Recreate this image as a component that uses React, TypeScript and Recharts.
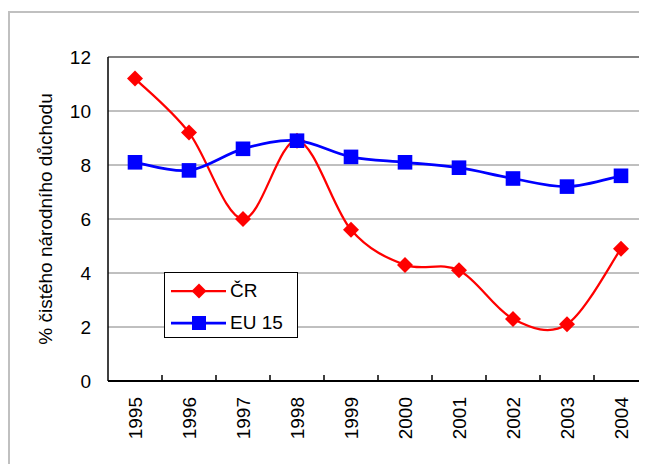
import {
  LineChart,
  Line,
  XAxis,
  YAxis,
  CartesianGrid,
  Legend,
  ReferenceLine,
} from "recharts";

const years = ["1995", "1996", "1997", "1998", "1999", "2000", "2001", "2002", "2003", "2004"];
const crValues = [11.2, 9.2, 6.0, 8.9, 5.6, 4.3, 4.1, 2.3, 2.1, 4.9];
const euValues = [8.1, 7.8, 8.6, 8.9, 8.3, 8.1, 7.9, 7.5, 7.2, 7.6];
const yTicks = [0, 2, 4, 6, 8, 10, 12];

const FONT = "Arial, 'Liberation Sans', sans-serif";
const RED = "#ff0000";
const BLUE = "#0000ff";
const X_TICK_MARGIN = 16;

const data = years.map((year, i) => ({ year, cr: crValues[i], eu: euValues[i] }));

// Excel-like smoothing (Catmull-Rom through the points)
function excelSmooth(context: any) {
  let pts: number[][] = [];
  return {
    areaStart() {},
    areaEnd() {},
    lineStart() {
      pts = [];
    },
    point(x: number, y: number) {
      pts.push([+x, +y]);
    },
    lineEnd() {
      if (!pts.length) return;
      context.moveTo(pts[0][0], pts[0][1]);
      for (let i = 0; i < pts.length - 1; i++) {
        const p0 = pts[Math.max(i - 1, 0)];
        const p1 = pts[i];
        const p2 = pts[i + 1];
        const p3 = pts[Math.min(i + 2, pts.length - 1)];
        context.bezierCurveTo(
          p1[0] + (p2[0] - p0[0]) / 6,
          p1[1] + (p2[1] - p0[1]) / 6,
          p2[0] - (p3[0] - p1[0]) / 6,
          p2[1] - (p3[1] - p1[1]) / 6,
          p2[0],
          p2[1],
        );
      }
    },
  };
}

function Diamond({ cx, cy, r = 8 }: { cx: number; cy: number; r?: number }) {
  return <path d={`M${cx} ${cy - r}L${cx + r} ${cy}L${cx} ${cy + r}L${cx - r} ${cy}Z`} fill={RED} />;
}

function Square({ cx, cy, r = 7.3 }: { cx: number; cy: number; r?: number }) {
  return <rect x={cx - r} y={cy - r} width={r * 2} height={r * 2} fill={BLUE} />;
}

// year label, plus the Excel-style tick mark between categories (pointing up into the plot)
function YearTick({ x, y, payload, index }: any) {
  const axisY = y - X_TICK_MARGIN;
  const bx = x - (payload.offset || 0);
  return (
    <g>
      {index > 0 && <line x1={bx} x2={bx} y1={axisY - 6} y2={axisY} stroke="#000" strokeWidth={1.5} />}
      <text
        x={x}
        y={y}
        transform={`rotate(-90 ${x} ${y})`}
        textAnchor="end"
        dominantBaseline="central"
        fontFamily={FONT}
        fontSize={19}
        fill="#000"
      >
        {payload.value}
      </text>
    </g>
  );
}

function YTitle({ viewBox }: any) {
  const x = viewBox.x + 27;
  const y = viewBox.y + viewBox.height / 2;
  return (
    <text
      x={x}
      y={y}
      transform={`rotate(-90 ${x} ${y})`}
      textAnchor="middle"
      dominantBaseline="central"
      fontFamily={FONT}
      fontSize={19}
      fill="#000"
    >
      % čistého národního důchodu
    </text>
  );
}

function LegendBox({ payload }: any) {
  const items = [...(payload || [])].sort((a: any, b: any) => (a.dataKey === "cr" ? -1 : b.dataKey === "cr" ? 1 : 0));
  return (
    <div
      style={{
        width: 134,
        height: 66,
        boxSizing: "border-box",
        border: "1px solid #000",
        background: "#fff",
        paddingTop: 2,
        fontFamily: FONT,
        fontSize: 19,
        color: "#000",
      }}
    >
      {items.map((p: any) => (
        <div key={p.value} style={{ display: "flex", alignItems: "center", height: 32 }}>
          <svg width={64} height={20} style={{ display: "block" }}>
            <line x1={6} y1={10} x2={61} y2={10} stroke={p.color} strokeWidth={p.dataKey === "cr" ? 2.25 : 2.75} />
            {p.dataKey === "cr" ? <Diamond cx={34} cy={10} r={7.5} /> : <Square cx={34} cy={10} r={7} />}
          </svg>
          <span style={{ marginLeft: 1, lineHeight: "20px" }}>{p.value}</span>
        </div>
      ))}
    </div>
  );
}

export default function App() {
  return (
    <div style={{ position: "relative", width: 639, height: 456, overflow: "hidden", background: "#fff" }}>
      <div
        style={{
          position: "absolute",
          left: 0,
          top: 3,
          width: 700,
          height: 500,
          border: "2px solid #c0c0c0",
          boxSizing: "border-box",
        }}
      />
      <div style={{ position: "absolute", left: 0, top: 0 }}>
        <LineChart width={700} height={456} data={data} margin={{ top: 49, right: 60, bottom: 23, left: 10 }}>
          <CartesianGrid horizontal vertical={false} stroke="#808080" strokeWidth={1} />
          <ReferenceLine y={12} stroke="#808080" strokeWidth={2} />
          <XAxis
            dataKey="year"
            scale="band"
            height={60}
            axisLine={{ stroke: "#000", strokeWidth: 2 }}
            tickLine={false}
            tickSize={0}
            tickMargin={X_TICK_MARGIN}
            interval={0}
            tick={<YearTick />}
          />
          <YAxis
            domain={[0, 12]}
            ticks={yTicks}
            width={90}
            axisLine={{ stroke: "#000", strokeWidth: 1.5 }}
            tickLine={false}
            tickSize={2}
            tickMargin={15}
            tick={{ fontFamily: FONT, fontSize: 19, fill: "#000" }}
            label={{ content: <YTitle /> }}
          />
          <Legend
            layout="vertical"
            align="center"
            verticalAlign="middle"
            content={<LegendBox />}
            wrapperStyle={{ left: 156, top: 264, width: 134, height: 66 }}
          />
          <Line
            dataKey="cr"
            name="ČR"
            stroke={RED}
            strokeWidth={2.25}
            type={excelSmooth as any}
            isAnimationActive={false}
            dot={(p: any) => <Diamond key={`cr-${p.index}`} cx={p.cx} cy={p.cy} />}
            activeDot={false}
          />
          <Line
            dataKey="eu"
            name="EU 15"
            stroke={BLUE}
            strokeWidth={2.75}
            type={excelSmooth as any}
            isAnimationActive={false}
            dot={(p: any) => <Square key={`eu-${p.index}`} cx={p.cx} cy={p.cy} />}
            activeDot={false}
          />
        </LineChart>
      </div>
    </div>
  );
}
